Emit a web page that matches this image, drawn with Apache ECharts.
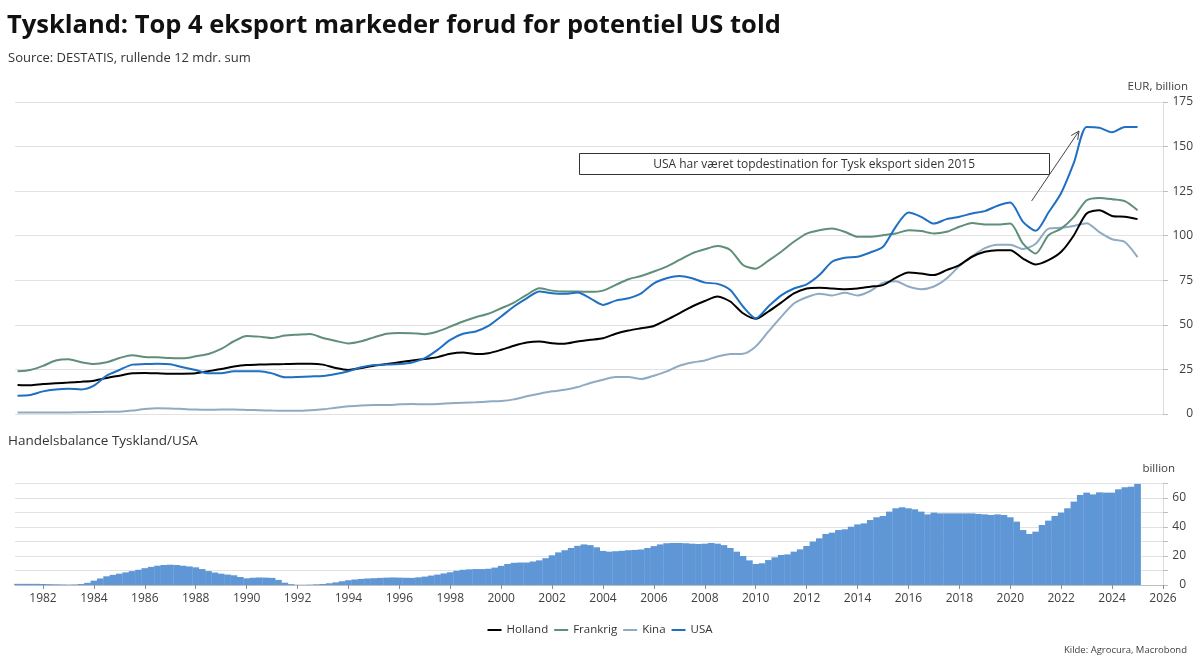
<!DOCTYPE html>
<html><head><meta charset="utf-8">
<script src="https://cdn.jsdelivr.net/npm/echarts@6/dist/echarts.min.js"></script>
<style>html,body{margin:0;padding:0;background:#fff}#c{width:1200px;height:664px}</style>
</head><body><div id="c"></div>
<script>
// ---- data (EUR billion, rolling 12m sum) ----
const START_YEAR = 1981;
const LINE_STEP = 0.5;   // half-year readings
const BAR_STEP = 0.25;   // quarterly readings
const yearTicks = [1982,1984,1986,1988,1990,1992,1994,1996,1998,2000,2002,2004,2006,2008,2010,2012,2014,2016,2018,2020,2022,2024,2026];
const seriesNames = ['Holland','Frankrig','Kina','USA'];

const holland = [
 16.3,16.1, 16.8,17.2, 17.6,18.1, 18.7,20.2, 21.5,22.8, 23.0,22.8, 22.6,22.6, 22.8,24.0, 25.2,26.6, 27.5,27.7,
 27.9,28.0, 28.2,28.2, 27.7,25.8, 24.7,25.8, 27.1,28.0, 29.0,30.0, 30.8,31.9, 33.8,34.5, 33.6,34.1, 36.0,38.3,
 40.1,40.7, 39.7,39.4, 40.7,41.6, 42.5,45.0, 46.8,48.1, 49.4,52.8, 56.5,60.3, 63.4,65.9, 63.1,56.5, 53.4,57.5,
 62.5,67.6, 70.4,70.8, 70.4,70.0, 70.4,71.4, 72.3,76.4, 79.4,78.8, 77.9,80.7, 83.5,88.2, 91.0,91.9, 91.9,87.2,
 83.9,86.3, 91.0,100.3, 112.5,114.3, 111.1,110.6, 109.3];
const frankrig = [
 24.0,24.7, 27.0,30.0, 30.7,29.0, 28.0,29.0, 31.4,33.0, 32.0,31.8, 31.4,31.2, 32.4,33.7, 36.5,40.8, 43.8,43.4,
 42.6,44.0, 44.5,44.9, 42.6,41.0, 39.6,40.8, 43.0,45.0, 45.5,45.3, 44.8,46.3, 49.0,51.9, 54.3,56.2, 59.3,62.5,
 66.8,70.5, 69.2,68.7, 68.7,68.5, 69.2,72.4, 75.6,77.4, 79.9,82.7, 86.4,90.1, 92.4,94.2, 92.0,83.6, 81.5,86.0,
 91.0,96.6, 101.2,103.1, 104.0,102.2, 99.4,99.4, 100.3,101.2, 103.1,102.6, 101.2,102.2, 105.0,107.2, 106.3,106.3, 106.8,95.6,
 90.0,100.3, 104.0,110.6, 119.9,121.2, 120.5,119.4, 114.3];
const kina = [
 0.8,0.8, 0.8,0.9, 0.9,1.0, 1.1,1.2, 1.3,1.9, 2.8,3.2, 3.1,2.8, 2.5,2.4, 2.5,2.5, 2.3,2.1,
 1.9,1.8, 1.8,2.1, 2.6,3.5, 4.3,4.8, 5.0,5.0, 5.4,5.6, 5.4,5.6, 6.0,6.3, 6.6,7.0, 7.3,8.2,
 9.9,11.4, 12.7,13.6, 15.1,17.4, 19.2,20.7, 20.7,19.6, 21.5,23.9, 27.1,28.9, 30.0,32.3, 33.6,33.8, 37.9,46.3,
 54.5,62.0, 65.5,67.5, 66.5,68.0, 66.5,69.0, 73.5,74.5, 71.5,70.0, 71.5,76.0, 83.0,88.5, 93.0,95.0, 95.0,92.5,
 95.5,104.0, 104.5,105.5, 107.0,102.0, 98.0,96.5, 88.0];
const usa = [
 10.3,10.7, 12.7,13.8, 14.2,13.8, 15.9,21.5, 24.7,27.7, 28.0,28.2, 27.9,26.2, 24.7,22.8, 22.8,24.0, 24.0,24.0,
 22.8,20.6, 20.8,21.1, 21.3,22.4, 24.0,26.2, 27.5,27.7, 28.0,28.9, 31.3,36.0, 41.6,45.0, 46.3,49.4, 54.7,60.3,
 64.9,68.7, 67.7,67.4, 68.1,64.9, 61.2,63.6, 64.9,67.7, 73.3,76.1, 77.4,76.1, 73.7,73.0, 69.6,60.3, 53.7,60.3,
 66.5,70.4, 72.7,77.9, 85.4,87.6, 88.2,90.6, 93.8,105.0, 113.0,110.6, 106.8,109.3, 110.6,112.5, 113.8,116.8, 118.6,107.8,
 102.8,113.0, 124.0,141.0, 161.0,160.5, 158.0,161.0, 161.0];
// trade balance Germany/USA, quarterly
const balance = [
 0.8,0.8,0.8,0.8, 0.7,0.6,0.5,0.4, 0.3,0.4,0.7,1.5, 3.0,4.5,6.0,7.0, 7.8,8.7,9.6,10.5,
 11.6,12.5,13.3,13.8, 14.0,13.8,13.3,12.8, 12.2,11.0,9.6,8.6, 7.8,7.2,6.7,5.5, 4.6,5.0,5.2,5.1,
 4.9,3.5,1.6,0.6, 0.2,0.2,0.3,0.5, 0.7,1.2,1.8,2.6, 3.3,3.8,4.2,4.5, 4.7,4.9,5.1,5.2,
 5.1,5.0,4.9,5.3, 5.8,6.5,7.2,8.0, 8.8,9.8,10.5,10.8, 11.0,11.0,11.2,12.0, 13.2,14.5,15.3,15.5,
 15.5,16.2,17.0,18.5, 20.5,22.5,24.0,25.5, 27.0,28.0,27.5,26.0, 23.5,23.0,23.3,23.6, 24.0,24.2,24.5,25.5,
 26.8,28.0,28.8,29.0, 29.0,28.8,28.5,28.3, 28.5,29.0,28.5,27.5, 25.5,23.0,20.0,17.0, 14.5,15.0,17.2,19.1,
 20.7,21.1,23.0,24.6, 26.9,29.9,32.2,35.2, 36.1,37.9,38.4,40.2, 41.8,42.5,44.8,46.7, 47.6,50.6,52.9,53.6,
 52.9,52.2,50.6,48.7, 49.9,49.4,49.4,49.4, 49.4,49.4,49.4,49.0, 48.7,48.3,48.7,48.3, 46.7,43.7,37.9,35.2,
 36.8,41.4,44.4,47.6, 49.9,52.9,57.5,62.1, 63.7,62.5,63.9,63.7, 63.7,66.0,67.4,67.8, 69.7];

// annotation (data coordinates of the top panel)
const noteText = 'USA har været topdestination for Tysk eksport siden 2015';
const noteBox = {x0: 2003.07, x1: 2021.52, yTop: 146.2, yBottom: 134.4};
const noteArrow = {from: [2020.84, 119.5], to: [2022.70, 158.7]};

// ---- chart ----
const FONT = "'Open Sans', sans-serif";
const pairs = (arr, step) => arr.map((v, i) => [START_YEAR + i * step, v]);
const colors = {Holland:'#000000', Frankrig:'#5f8f78', Kina:'#8eabc3', USA:'#1f6fc3'};
const dataMap = {Holland: holland, Frankrig: frankrig, Kina: kina, USA: usa};

const chart = echarts.init(document.getElementById('c'), null, {renderer:'canvas'});
const lineSeries = ['Kina','Frankrig','Holland','USA'].map(n => ({
  name: n, type: 'line', xAxisIndex: 0, yAxisIndex: 0,
  data: pairs(dataMap[n], LINE_STEP), symbol: 'none', showSymbol: false, smooth: 0.25,
  lineStyle: {width: 2, color: colors[n]}, itemStyle: {color: colors[n]},
  emphasis: {disabled: true}, z: n === 'USA' ? 4 : 3
}));

const option = {
  backgroundColor: '#ffffff',
  animation: false,
  textStyle: {fontFamily: FONT},
  title: [
    {text: 'Tyskland: Top 4 eksport markeder forud for potentiel US told', left: 2, top: 8,
     textStyle: {fontFamily: FONT, fontSize: 25.5, fontWeight: 'bold', color: '#111'}},
    {text: 'Source: DESTATIS, rullende 12 mdr. sum', left: 3, top: 47,
     textStyle: {fontFamily: FONT, fontSize: 13, fontWeight: 'normal', color: '#333'}},
    {text: 'EUR, billion', right: 7, top: 76,
     textStyle: {fontFamily: FONT, fontSize: 11.5, fontWeight: 'normal', color: '#404040'}},
    {text: 'Handelsbalance Tyskland/USA', left: 3, top: 429,
     textStyle: {fontFamily: FONT, fontSize: 13.5, fontWeight: 'normal', color: '#333'}},
    {text: 'billion', right: 20, top: 458,
     textStyle: {fontFamily: FONT, fontSize: 11.5, fontWeight: 'normal', color: '#404040'}},
    {text: 'Kilde: Agrocura, Macrobond', right: 8, top: 640,
     textStyle: {fontFamily: FONT, fontSize: 9.5, fontWeight: 'normal', color: '#404040'}}
  ],
  legend: {
    data: seriesNames, left: 'center', top: 619, icon: 'rect', itemWidth: 14, itemHeight: 2,
    itemGap: 6, selectedMode: false,
    textStyle: {fontFamily: FONT, fontSize: 11.5, color: '#333'}
  },
  grid: [
    {left: 15, right: 37, top: 102, bottom: 250},
    {left: 15, right: 37, top: 483.5, bottom: 79}
  ],
  xAxis: [
    {gridIndex: 0, type: 'value', min: 1980.9, max: 2026, show: false},
    {gridIndex: 1, type: 'value', min: 1980.9, max: 2026,
     axisLine: {show: true, onZero: false, lineStyle: {color: '#bfbfbf'}},
     axisTick: {show: true, customValues: yearTicks, length: 4, lineStyle: {color: '#8c8c8c'}},
     axisLabel: {customValues: yearTicks, color: '#404040', fontSize: 12, margin: 8, fontFamily: FONT,
                 formatter: v => String(v)},
     splitLine: {show: false}}
  ],
  yAxis: [
    {gridIndex: 0, type: 'value', position: 'right', min: 0, max: 175, interval: 25,
     axisLine: {show: true, lineStyle: {color: '#dcdcdc'}},
     axisTick: {show: true, length: 5, lineStyle: {color: '#bfbfbf'}},
     axisLabel: {align: 'right', margin: 30, color: '#404040', fontSize: 12, fontFamily: FONT},
     splitLine: {show: true, lineStyle: {color: '#e2e2e2'}}},
    {gridIndex: 1, type: 'value', position: 'right', min: 0, max: 70, interval: 10,
     axisLine: {show: true, lineStyle: {color: '#dcdcdc'}},
     axisTick: {show: true, length: 5, lineStyle: {color: '#bfbfbf'}},
     axisLabel: {align: 'right', margin: 23, color: '#404040', fontSize: 12, fontFamily: FONT,
                 formatter: v => (v % 20 === 0 ? String(v) : '')},
     splitLine: {show: true, lineStyle: {color: '#e2e2e2'}}}
  ],
  series: lineSeries.concat([{
    name: 'Handelsbalance', type: 'bar', xAxisIndex: 1, yAxisIndex: 1,
    data: pairs(balance, BAR_STEP), barWidth: 6.7,
    itemStyle: {color: '#5f97d6'}, emphasis: {disabled: true}
  }])
};
chart.setOption(option);

// annotation box + arrow anchored to the top panel's data coordinates
const p = c => chart.convertToPixel({gridIndex: 0}, c);
const b0 = p([noteBox.x0, noteBox.yTop]), b1 = p([noteBox.x1, noteBox.yBottom]);
const a0 = p(noteArrow.from), a1 = p(noteArrow.to);
const ang = Math.atan2(a1[1] - a0[1], a1[0] - a0[0]);
const hl = 9, hw = 0.45;
const h1 = [a1[0] - hl * Math.cos(ang - hw), a1[1] - hl * Math.sin(ang - hw)];
const h2 = [a1[0] - hl * Math.cos(ang + hw), a1[1] - hl * Math.sin(ang + hw)];
chart.setOption({graphic: [
  {type: 'rect', shape: {x: Math.round(b0[0]) + 0.5, y: Math.round(b0[1]) + 0.5,
     width: Math.round(b1[0] - b0[0]), height: Math.round(b1[1] - b0[1])},
   style: {fill: '#fff', stroke: '#333', lineWidth: 1}, z: 10},
  {type: 'text', x: (b0[0] + b1[0]) / 2, y: (b0[1] + b1[1]) / 2 + 1,
   style: {text: noteText, fill: '#333', font: "12px 'Open Sans', sans-serif",
           textAlign: 'center', textVerticalAlign: 'middle'}, z: 11},
  {type: 'polyline', shape: {points: [a0, a1]}, style: {stroke: '#444', lineWidth: 1, fill: null}, z: 10},
  {type: 'polyline', shape: {points: [h1, a1, h2]}, style: {stroke: '#444', lineWidth: 1, fill: null}, z: 10}
]});
</script></body></html>
